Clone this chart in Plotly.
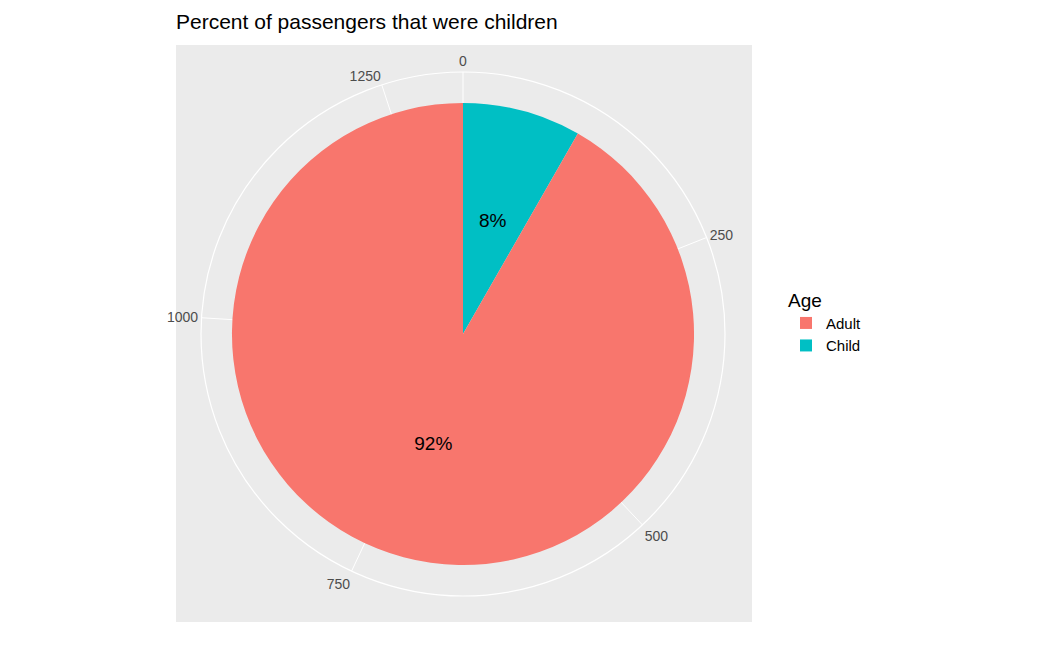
import plotly.graph_objects as go

categories = ["Child", "Adult"]
counts = [109, 1207]
colors = {"Adult": "#F8766D", "Child": "#00BFC4"}
tick_values = [0, 250, 500, 750, 1000, 1250]

total = sum(counts)
deg = 360 / total
W, H, OFF = 1050, 648, 8
px = lambda x: (x - OFF) / W
py = lambda y: 1 - (y - OFF) / H

fig = go.Figure()
start = 0
label_theta = []
for cat, c in zip(categories, counts):
    fig.add_trace(go.Barpolar(r=[1], theta=[(start + c / 2) * deg], width=[c * deg],
                              marker=dict(color=colors[cat], line=dict(width=0)),
                              name=cat, showlegend=False))
    label_theta.append((start + c / 2) * deg)
    start += c
for cat in ["Adult", "Child"]:
    fig.add_trace(go.Scatter(x=[None], y=[None], mode="markers", name=cat,
                             marker=dict(symbol="square", size=30, color=colors[cat])))
fig.add_trace(go.Scatterpolar(r=[0.5, 0.5], theta=label_theta, mode="text",
                              text=[f"{round(100 * c / total)}%" for c in counts],
                              textfont=dict(size=19, color="black"), showlegend=False))

fig.update_layout(
    width=W, height=H, margin=dict(l=0, r=0, t=0, b=0),
    paper_bgcolor="white", plot_bgcolor="white",
    font=dict(family="Liberation Sans, Arial", color="black"),
    title=dict(text="Percent of passengers that were children", x=px(176), xanchor="left",
               y=py(22), yanchor="middle", font=dict(size=21)),
    xaxis=dict(visible=False, domain=[0.9, 0.95]), yaxis=dict(visible=False, domain=[0.9, 0.95]),
    shapes=[dict(type="rect", xref="paper", yref="paper", x0=px(176), x1=px(752),
                 y0=py(622), y1=py(45), fillcolor="#EBEBEB", line=dict(width=0), layer="below")],
    polar=dict(
        domain=dict(x=[px(201), px(725)], y=[py(596), py(72)]),
        bgcolor="#EBEBEB", bargap=0, hole=0,
        radialaxis=dict(range=[0, 1.134], showgrid=False, showticklabels=False, ticks="",
                        showline=False),
        angularaxis=dict(direction="clockwise", rotation=90,
                         tickvals=[v * deg for v in tick_values],
                         ticktext=[str(v) for v in tick_values],
                         gridcolor="white", gridwidth=1.2, linecolor="white", linewidth=1.2,
                         ticks="", tickfont=dict(size=14, color="#4D4D4D")),
    ),
    legend=dict(x=px(786), y=py(282), xanchor="left", yanchor="top",
                title=dict(text="Age", font=dict(size=19)), font=dict(size=15),
                itemsizing="constant", tracegroupgap=4),
)
fig.write_html("out.html")
